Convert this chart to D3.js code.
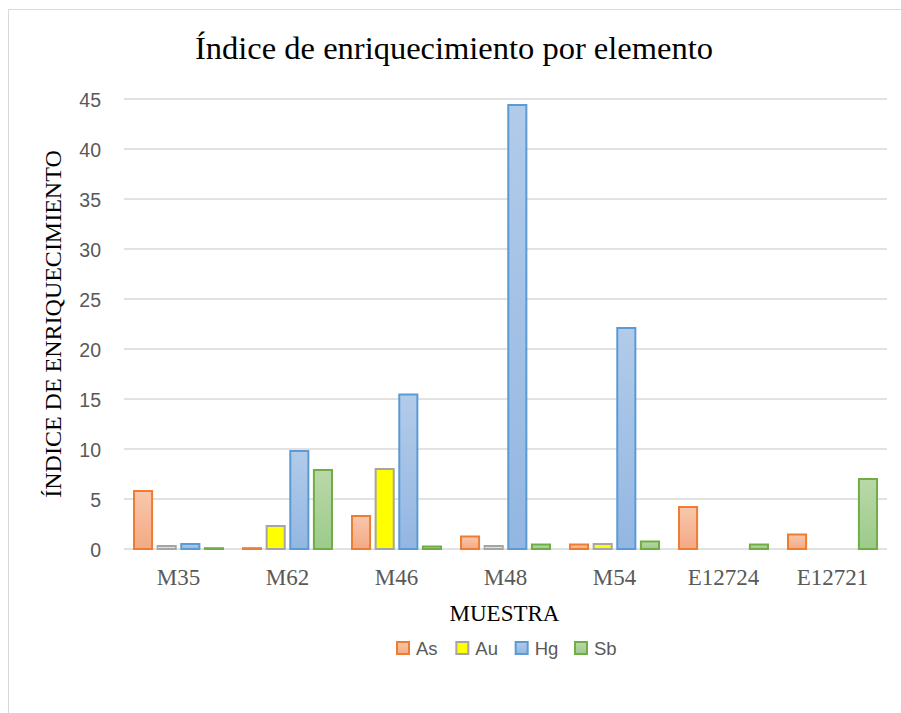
<!DOCTYPE html>
<html>
<head>
<meta charset="utf-8">
<script src="https://cdn.jsdelivr.net/npm/d3@7"></script>
<style>
  html, body { margin: 0; padding: 0; background: #fff; }
  svg { display: block; }
</style>
</head>
<body>
<svg id="chart" width="901" height="713"></svg>
<script>
// Enrichment index per sample and element
const categories = ["M35", "M62", "M46", "M48", "M54", "E12724", "E12721"];
const seriesNames = ["As", "Au", "Hg", "Sb"];
const asValues = [5.8, 0.08, 3.3, 1.25, 0.45, 4.2, 1.45];
const auValues = [0.3, 2.3, 8.0, 0.3, 0.5, 0, 0];
const hgValues = [0.5, 9.8, 15.45, 44.4, 22.1, 0, 0];
const sbValues = [0.08, 7.9, 0.25, 0.45, 0.75, 0.45, 7.0];
const yTicks = [0, 5, 10, 15, 20, 25, 30, 35, 40, 45];

const titleText = "Índice de enriquecimiento por elemento";
const xTitle = "MUESTRA";
const yTitle = "ÍNDICE DE ENRIQUECIMIENTO";

const valuesBySeries = { As: asValues, Au: auValues, Hg: hgValues, Sb: sbValues };

// Fill gradients (top, bottom) and outline colours for each element
const styles = {
  As: { top: "#f8c7ad", bottom: "#f4a984", stroke: "#ed7d31" },
  Au: { top: "#ffff00", bottom: "#ffff00", stroke: "#a5a5a5" },
  Hg: { top: "#b2cbe9", bottom: "#93b7e2", stroke: "#5b9bd5" },
  Sb: { top: "#bad8a9", bottom: "#9ccb8a", stroke: "#70ad47" }
};

const serif = "'Liberation Serif', 'Times New Roman', serif";
const sans = "'Liberation Sans', Arial, sans-serif";

const svg = d3.select("#chart");

// Outer chart frame
svg.append("rect")
  .attr("x", 8.5).attr("y", 9.5)
  .attr("width", 920).attr("height", 720)
  .attr("fill", "#fff")
  .attr("stroke", "#d9d9d9").attr("stroke-width", 1);

const defs = svg.append("defs");
seriesNames.forEach(s => {
  const g = defs.append("linearGradient")
    .attr("id", "grad-" + s)
    .attr("x1", 0).attr("y1", 0).attr("x2", 0).attr("y2", 1);
  g.append("stop").attr("offset", "0%").attr("stop-color", styles[s].top);
  g.append("stop").attr("offset", "100%").attr("stop-color", styles[s].bottom);
});

const plot = { left: 124, right: 887, top: 99, bottom: 549 };

const y = d3.scaleLinear().domain([0, 45]).range([plot.bottom, plot.top]);
const x0 = d3.scaleBand().domain(categories).range([plot.left, plot.right]);
const x1 = d3.scaleBand().domain(seriesNames)
  .range([9, x0.bandwidth() - 9]).paddingInner(0.15);

// Horizontal gridlines
svg.append("g").selectAll("line")
  .data(yTicks)
  .join("line")
  .attr("x1", plot.left).attr("x2", plot.right)
  .attr("y1", d => y(d)).attr("y2", d => y(d))
  .attr("stroke", "#d9d9d9").attr("stroke-width", 1.5);

// Y axis tick labels
const yAxis = d3.axisLeft(y).tickValues(yTicks).tickSize(0).tickPadding(0);
const yAxisG = svg.append("g")
  .attr("transform", `translate(101,0)`)
  .call(yAxis);
yAxisG.select(".domain").remove();
yAxisG.selectAll("text")
  .attr("fill", "#595959")
  .attr("font-family", sans)
  .attr("font-size", 19.5)
  .attr("dy", "0.36em");

// Category axis labels
const xAxis = d3.axisBottom(x0).tickSize(0).tickPadding(0);
const xAxisG = svg.append("g")
  .attr("transform", `translate(0,${plot.bottom})`)
  .call(xAxis);
xAxisG.select(".domain").remove();
xAxisG.selectAll("text")
  .attr("fill", "#595959")
  .attr("font-family", serif)
  .attr("font-size", 23)
  .attr("y", 36)
  .attr("dy", 0);

// Bars
const groups = svg.append("g").selectAll("g")
  .data(categories)
  .join("g")
  .attr("transform", d => `translate(${x0(d)},0)`);

groups.selectAll("rect")
  .data((c, i) => seriesNames
    .map(s => ({ s, v: valuesBySeries[s][i] }))
    .filter(d => d.v > 0))
  .join("rect")
  .attr("x", d => x1(d.s) + 1)
  .attr("width", x1.bandwidth() - 2)
  .attr("y", d => y(d.v))
  .attr("height", d => y(0) - y(d.v))
  .attr("fill", d => `url(#grad-${d.s})`)
  .attr("stroke", d => styles[d.s].stroke)
  .attr("stroke-width", 2);

// Titles
svg.append("text")
  .attr("x", 454).attr("y", 59)
  .attr("text-anchor", "middle")
  .attr("font-family", serif)
  .attr("font-size", 32.5)
  .attr("fill", "#000")
  .text(titleText);

svg.append("text")
  .attr("x", (plot.left + plot.right) / 2 - 1).attr("y", 621)
  .attr("text-anchor", "middle")
  .attr("font-family", serif)
  .attr("font-size", 23)
  .attr("fill", "#000")
  .text(xTitle);

svg.append("text")
  .attr("transform", `translate(61,${(plot.top + plot.bottom) / 2}) rotate(-90)`)
  .attr("text-anchor", "middle")
  .attr("font-family", serif)
  .attr("font-size", 24)
  .attr("fill", "#000")
  .text(yTitle);

// Legend
const legendX = d3.scalePoint().domain(seriesNames).range([396, 574]);
const legend = svg.append("g").selectAll("g")
  .data(seriesNames)
  .join("g")
  .attr("transform", d => `translate(${legendX(d)},641)`);
legend.append("rect")
  .attr("x", 1).attr("y", 1)
  .attr("width", 12).attr("height", 12)
  .attr("fill", d => `url(#grad-${d})`)
  .attr("stroke", d => styles[d].stroke)
  .attr("stroke-width", 2);
legend.append("text")
  .attr("x", 20).attr("y", 7)
  .attr("dy", "0.36em")
  .attr("font-family", sans)
  .attr("font-size", 18.5)
  .attr("fill", "#595959")
  .text(d => d);
</script>
</body>
</html>
